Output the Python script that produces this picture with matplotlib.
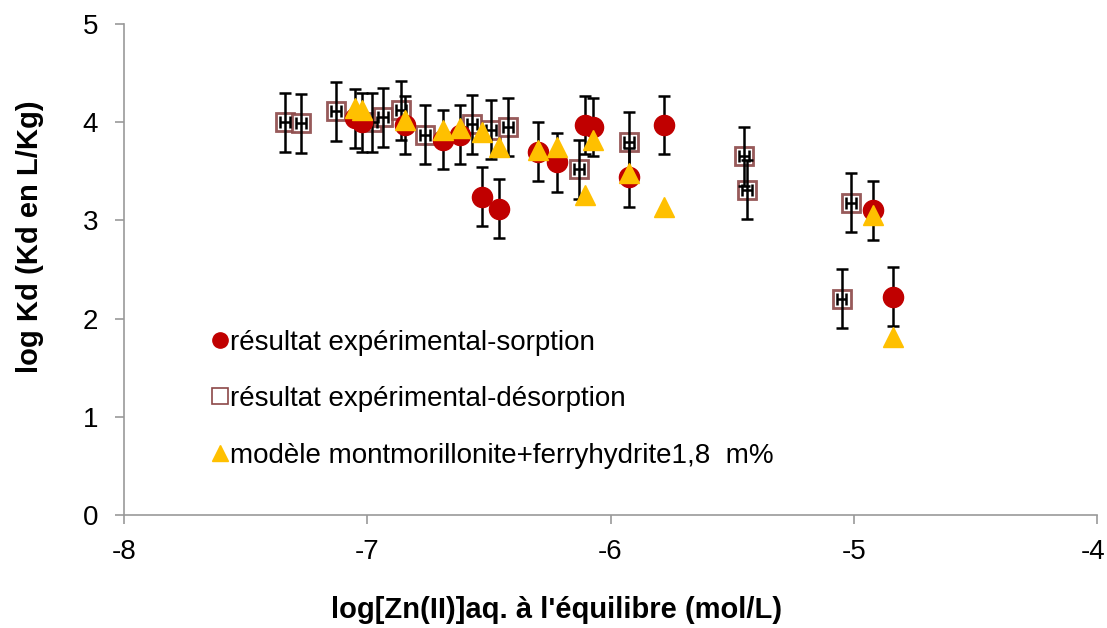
import numpy as np
import matplotlib
matplotlib.use('Agg')
import matplotlib.pyplot as plt
import matplotlib.transforms as mtransforms
from matplotlib.lines import Line2D

plt.rcParams['font.family'] = ['Liberation Sans', 'DejaVu Sans']
plt.rcParams['axes.unicode_minus'] = False

# sorption results (log[Zn] aq, log Kd)
sorp_x = [-7.05, -7.02, -6.845, -6.69, -6.62, -6.53, -6.46, -6.30, -6.22,
          -6.105, -6.07, -5.925, -5.78, -4.92, -4.84]
sorp_y = [4.04, 4.00, 3.97, 3.82, 3.87, 3.24, 3.12, 3.70, 3.59,
          3.97, 3.95, 3.44, 3.97, 3.10, 2.22]
sorp_err = 0.3

# desorption results
desorp_x = [-7.338, -7.272, -7.128, -6.98, -6.935, -6.86, -6.763, -6.57,
            -6.49, -6.42, -6.13, -5.925, -5.45, -5.44, -5.01, -5.05]
desorp_y = [4.00, 3.99, 4.11, 4.00, 4.05, 4.12, 3.87, 3.98,
            3.92, 3.95, 3.52, 3.80, 3.65, 3.31, 3.18, 2.20]
desorp_yerr = 0.3
desorp_xerr = 0.02

# model montmorillonite + ferrihydrite
model_x = sorp_x
model_y = [4.14, 4.12, 4.02, 3.92, 3.94, 3.90, 3.75, 3.72, 3.75,
           3.26, 3.82, 3.48, 3.14, 3.05, 1.81]

red = '#C00000'
gold = '#FFC000'
brown = '#8C4848'

fig = plt.figure(figsize=(11.07, 6.28), dpi=100)
ax = fig.add_axes([0.112, 0.180, 0.879, 0.782])

# desorption squares then their error bars on top
ax.plot(desorp_x, desorp_y, 's', ms=13, mfc='white', mec=brown, mew=2.0,
        alpha=0.9, zorder=2)
ax.errorbar(desorp_x, desorp_y, yerr=desorp_yerr, xerr=desorp_xerr, fmt='none',
            ecolor='black', elinewidth=1.8, capsize=4.5, capthick=1.8, zorder=3)

# sorption error bars then circles
ax.errorbar(sorp_x, sorp_y, yerr=sorp_err, fmt='none', ecolor='black',
            elinewidth=1.8, capsize=4.5, capthick=1.8, zorder=3)
ax.plot(sorp_x, sorp_y, 'o', ms=14.5, color=red, mec=red, zorder=4)

# model triangles
ax.plot(model_x, model_y, '^', ms=14, color=gold, mec=gold, zorder=5)

ax.set_xlim(-8, -4)
ax.set_ylim(0, 5)
ax.set_xticks([-8, -7, -6, -5, -4])
ax.set_yticks([0, 1, 2, 3, 4, 5])

for s in ['top', 'right']:
    ax.spines[s].set_visible(False)
for s in ['left', 'bottom']:
    ax.spines[s].set_color('#999999')
    ax.spines[s].set_linewidth(1.2)
ax.tick_params(axis='both', colors='#999999', labelcolor='black', labelsize=20,
               length=6.5, width=1.2, direction='out')
ax.tick_params(axis='y', pad=12)
ax.tick_params(axis='x', pad=11)

# nudge the last x tick label so it stays inside the figure
last = ax.get_xticklabels()[-1]
last.set_transform(last.get_transform() +
                   mtransforms.ScaledTranslation(-4 / 100, 0, fig.dpi_scale_trans))

ax.set_xlabel("log[Zn(II)]aq. à l'équilibre (mol/L)", fontsize=21, fontweight='bold')
ax.xaxis.set_label_coords((557 - 124) / 973, -0.166)
ax.set_ylabel("log Kd (Kd en L/Kg)", fontsize=21, fontweight='bold')
ax.yaxis.set_label_coords(-0.082, (515 - 237) / 491)

handles = [
    Line2D([], [], ls='none', marker='o', ms=11, color=red),
    Line2D([], [], ls='none', marker='s', ms=11, mfc='white', mec=brown, mew=1.2),
    Line2D([], [], ls='none', marker='^', ms=11, color=gold),
]
labels = ['résultat expérimental-sorption',
          'résultat expérimental-désorption',
          'modèle montmorillonite+ferryhydrite1,8  m%']
ax.legend(handles, labels, loc='upper left', bbox_to_anchor=(0.079, 0.40),
          frameon=False, fontsize=20, handlelength=0.6, handletextpad=0.05,
          labelspacing=1.1, borderaxespad=0)

fig.savefig('out.png', dpi=100)
